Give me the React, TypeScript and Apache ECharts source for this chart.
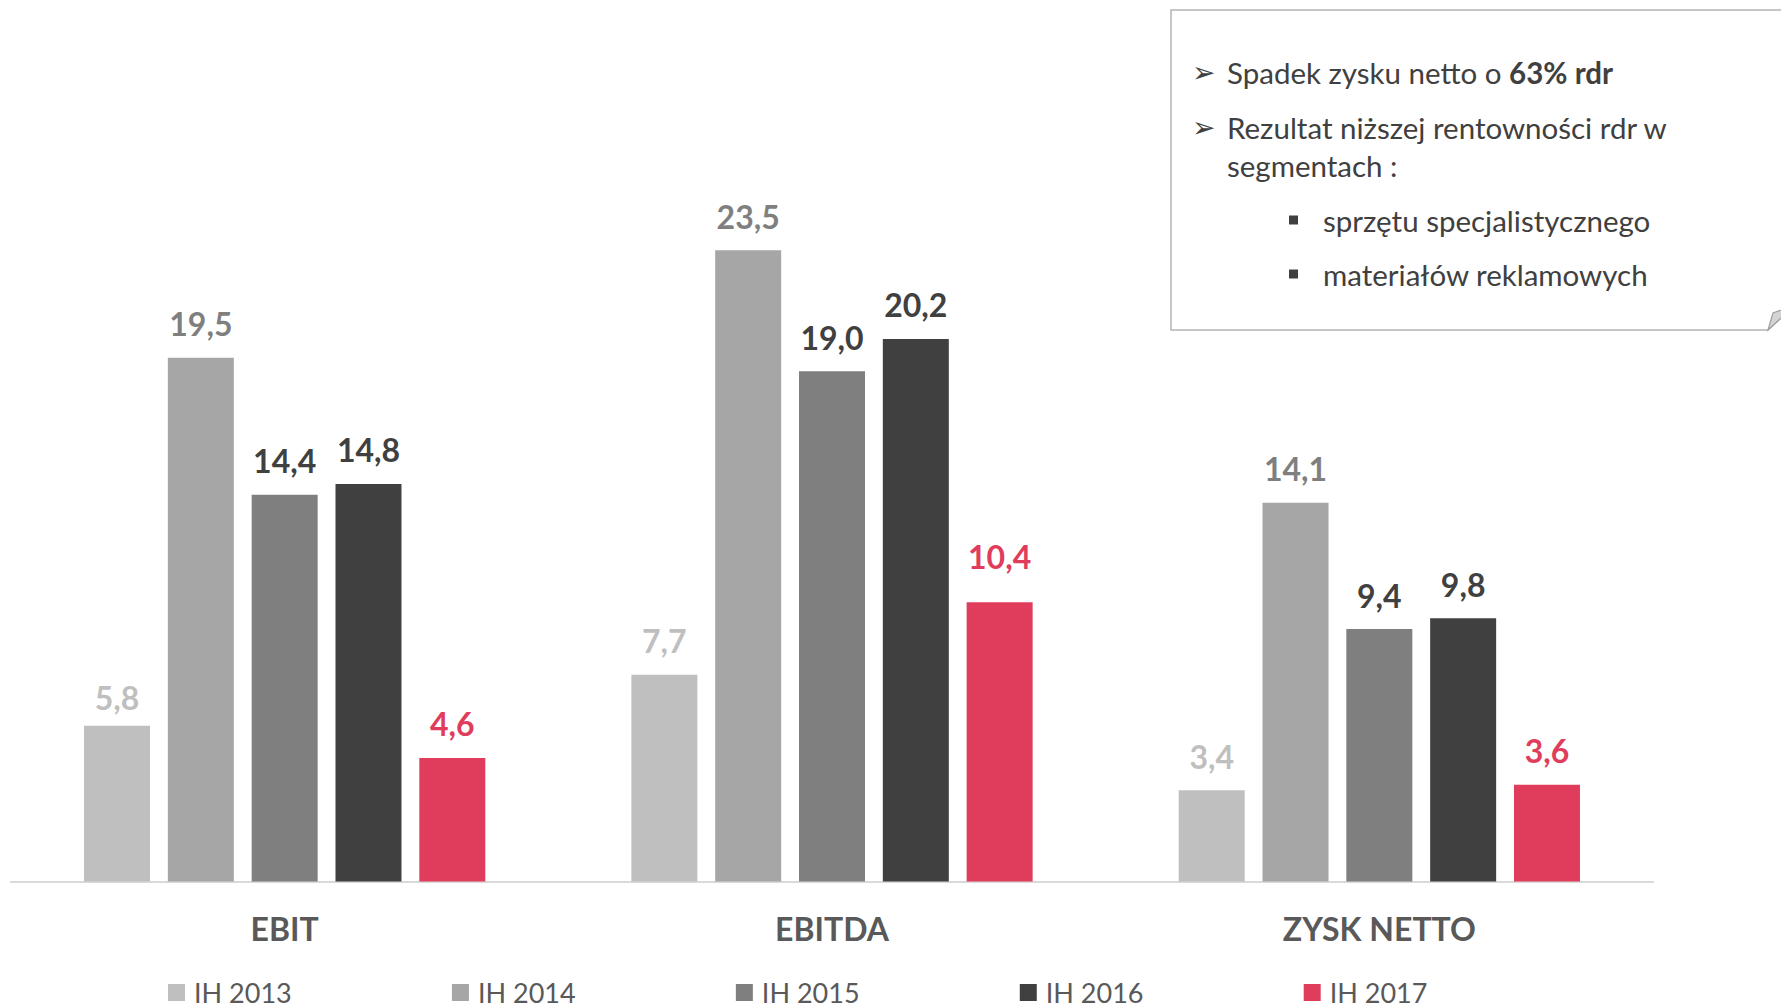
import React, { useEffect, useRef } from "react";
import * as echarts from "echarts";

const categories = ["EBIT", "EBITDA", "ZYSK NETTO"];
const seriesNames = ["IH 2013", "IH 2014", "IH 2015", "IH 2016", "IH 2017"];
const ih2013 = [5.8, 7.7, 3.4];
const ih2014 = [19.5, 23.5, 14.1];
const ih2015 = [14.4, 19.0, 9.4];
const ih2016 = [14.8, 20.2, 9.8];
const ih2017 = [4.6, 10.4, 3.6];
const seriesValues = [ih2013, ih2014, ih2015, ih2016, ih2017];
const barColors = ["#bfbfbf", "#a6a6a6", "#7f7f7f", "#404040", "#e03c5c"];
const labelColors = ["#bfbfbf", "#7f7f7f", "#404040", "#404040", "#e03c5c"];

const noteLine1 = "Spadek zysku netto o ";
const noteLine1Bold = "63% rdr";
const noteLine2 = "Rezultat niższej rentowności rdr w";
const noteLine3 = "segmentach :";
const noteBullets = ["sprzętu specjalistycznego", "materiałów reklamowych"];

const FONT = "Lato, 'Open Sans', sans-serif";

export default function App() {
  const ref = useRef<HTMLDivElement>(null);
  useEffect(() => {
    if (!ref.current) return;
    const chart = echarts.init(ref.current, null, { renderer: "svg" });
    const textColor = "#404040";
    const noteSize = 29.5;
    const arrow = (y: number) => ({
      type: "text",
      z: 12,
      x: 1192,
      y,
      style: { text: "➢", fontFamily: "'DejaVu Sans', sans-serif", fontSize: 28, fill: textColor, verticalAlign: "middle" },
    });
    const labelDistance = (i: number, j: number) => {
      if (i === 4 && j === 1) return 30;
      if (i === 0 && j === 0) return 12.5;
      return null;
    };
    chart.setOption({
      animation: false,
      backgroundColor: "#ffffff",
      grid: { left: 11, right: 128, top: 75.7, bottom: 126.5, containLabel: false },
      legend: {
        data: seriesNames,
        left: 163,
        top: 974,
        itemWidth: 17,
        itemHeight: 17,
        itemGap: 160.2,
        icon: "rect",
        textStyle: { fontFamily: FONT, fontSize: 27, color: "#595959", padding: [0, 0, 0, 4] },
      },
      xAxis: {
        type: "category",
        data: categories,
        axisLine: { show: true, lineStyle: { color: "#d9d9d9", width: 2 } },
        axisTick: { show: false },
        axisLabel: {
          margin: 30.5,
          fontFamily: FONT,
          fontSize: 32,
          fontWeight: "bold",
          color: "#595959",
        },
      },
      yAxis: {
        type: "value",
        min: 0,
        max: 30,
        show: false,
        splitLine: { show: false },
      },
      series: seriesValues.map((vals, i) => ({
        name: seriesNames[i],
        type: "bar",
        data: vals.map((v, j) => {
          const d = labelDistance(i, j);
          return d === null ? v : { value: v, label: { distance: d } };
        }),
        barWidth: 66,
        barGap: "27%",
        itemStyle: { color: barColors[i] },
        label: {
          show: true,
          position: "top",
          distance: 18,
          fontFamily: FONT,
          fontSize: 32,
          fontWeight: "bold",
          color: labelColors[i],
          formatter: (p: any) => p.value.toFixed(1).replace(".", ","),
        },
      })),
      graphic: [
        {
          type: "polygon",
          z: 10,
          shape: {
            points: [
              [1171, 10],
              [1795, 10],
              [1795, 305],
              [1768, 330],
              [1171, 330],
            ],
          },
          style: { fill: "#ffffff", stroke: "#b4b4b4", lineWidth: 1.5 },
        },
        {
          type: "polygon",
          z: 11,
          shape: {
            points: [
              [1768, 330],
              [1773, 313],
              [1795, 305],
            ],
          },
          style: { fill: "#d4d4d4", stroke: "#a0a0a0", lineWidth: 1.2 },
        },
        arrow(72),
        arrow(127),
        {
          type: "text",
          z: 12,
          x: 1227,
          y: 72,
          style: {
            text: "{r|" + noteLine1 + "}{b|" + noteLine1Bold + "}",
            verticalAlign: "middle",
            rich: {
              r: { fontFamily: FONT, fontSize: noteSize, fill: textColor, color: textColor },
              b: { fontFamily: FONT, fontSize: noteSize, fontWeight: "bold", fill: textColor, color: textColor },
            },
          },
        },
        {
          type: "text",
          z: 12,
          x: 1227,
          y: 127,
          style: { text: noteLine2, fontFamily: FONT, fontSize: noteSize, fill: textColor, verticalAlign: "middle" },
        },
        {
          type: "text",
          z: 12,
          x: 1227,
          y: 165,
          style: { text: noteLine3, fontFamily: FONT, fontSize: noteSize, fill: textColor, verticalAlign: "middle" },
        },
        ...noteBullets.flatMap((t, k) => {
          const y = k === 0 ? 220 : 274;
          return [
            {
              type: "rect",
              z: 12,
              shape: { x: 1289, y: y - 4.5, width: 9, height: 9 },
              style: { fill: textColor },
            },
            {
              type: "text",
              z: 12,
              x: 1323,
              y,
              style: { text: t, fontFamily: FONT, fontSize: noteSize, fill: textColor, verticalAlign: "middle" },
            },
          ];
        }),
      ],
    });
    return () => chart.dispose();
  }, []);
  return <div ref={ref} style={{ width: 1781, height: 1008, position: "absolute", left: 0, top: 0 }} />;
}
